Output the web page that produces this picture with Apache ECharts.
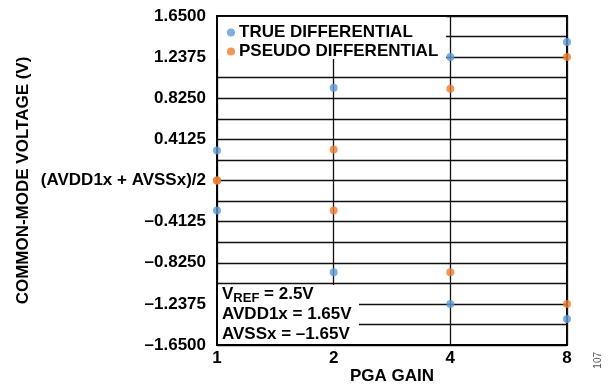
<!DOCTYPE html>
<html>
<head>
<meta charset="utf-8">
<script src="https://cdn.jsdelivr.net/npm/echarts@6/dist/echarts.min.js"></script>
<style>
  html, body { margin: 0; padding: 0; background: #fff; }
  #chart { width: 614px; height: 384px; }
</style>
</head>
<body>
<div id="chart"></div>
<script>
// datos
const gains = ['1', '2', '4', '8'];
const trueHigh = [0.30, 0.93, 1.24, 1.39];
const trueLow = [-0.30, -0.92, -1.24, -1.39];
const pseudoHigh = [0.0, 0.31, 0.92, 1.24];
const pseudoLow = [0.0, -0.30, -0.92, -1.24];
const yTicks = ['1.6500', '1.2375', '0.8250', '0.4125', '(AVDD1x + AVSSx)/2',
                '\u20130.4125', '\u20130.8250', '\u20131.2375', '\u20131.6500'];

const font = '"Liberation Sans", Arial, sans-serif';

function pairs(high, low) {
    const out = [];
    gains.forEach((g, i) => {
        out.push([g, high[i]]);
        out.push([g, low[i]]);
    });
    return out;
}

const chart = echarts.init(document.getElementById('chart'));

chart.setOption({
    animation: false,
    grid: {
        left: 217, right: 47, top: 16, bottom: 39,
        outerBoundsMode: 'none',
        containLabel: false,
        show: true, borderColor: '#000', borderWidth: 2
    },
    legend: {
        orient: 'vertical',
        left: 222, top: 19,
        z: 10,
        itemWidth: 8, itemHeight: 8, itemGap: 2,
        itemStyle: { borderWidth: 0 },
        icon: 'circle',
        textStyle: { fontFamily: font, fontWeight: 'bold', fontSize: 17, color: '#000', lineHeight: 15, padding: [0, 0, 0, -1] },
        data: ['TRUE DIFFERENTIAL', 'PSEUDO DIFFERENTIAL']
    },
    xAxis: {
        type: 'category',
        data: gains,
        boundaryGap: false,
        name: 'PGA GAIN',
        nameLocation: 'middle',
        nameGap: 23,
        nameMoveOverlap: false,
        nameTextStyle: { fontFamily: font, fontWeight: 'bold', fontSize: 17, color: '#000' },
        axisLine: { onZero: false, lineStyle: { color: '#000', width: 2 } },
        axisTick: { show: false },
        axisLabel: { fontFamily: font, fontWeight: 'bold', fontSize: 17, color: '#000', margin: 5 },
        splitLine: { show: true, lineStyle: { color: '#111', width: 1.3 } }
    },
    yAxis: {
        type: 'value',
        min: -1.65, max: 1.65, interval: 0.20625,
        name: 'COMMON-MODE VOLTAGE (V)',
        nameLocation: 'middle',
        nameGap: 185,
        nameMoveOverlap: false,
        nameTextStyle: { fontFamily: font, fontWeight: 'bold', fontSize: 17, color: '#000' },
        axisLine: { show: true, onZero: false, lineStyle: { color: '#000', width: 2 } },
        axisTick: { show: false },
        axisLabel: {
            fontFamily: font, fontWeight: 'bold', fontSize: 17, color: '#000', margin: 11,
            formatter: function (v) {
                const k = Math.round((1.65 - v) / 0.20625);
                return k % 2 === 0 ? yTicks[k / 2] : '';
            }
        },
        splitLine: { show: true, lineStyle: { color: '#111', width: 1.3 } }
    },
    graphic: [
        // fondo blanco de la leyenda
        { type: 'rect', z: 3, shape: { x: 218, y: 17, width: 228, height: 42 }, style: { fill: '#fff' } },
        // cuadro de condiciones
        { type: 'rect', z: 3, shape: { x: 218, y: 285, width: 141, height: 59 }, style: { fill: '#fff' } },
        {
            type: 'text', z: 4, left: 222, top: 283,
            style: {
                text: '{a|V}{s|REF}{a| = 2.5V}\n{a|AVDD1x = 1.65V}\n{a|AVSSx = \u20131.65V}',
                rich: {
                    a: { fontFamily: font, fontWeight: 'bold', fontSize: 17, color: '#000', lineHeight: 20 },
                    s: { fontFamily: font, fontWeight: 'bold', fontSize: 13, color: '#000', lineHeight: 20, padding: [9, 0, 0, 0] }
                }
            }
        },
        {
            type: 'text', left: 593, top: 352, rotation: Math.PI / 2,
            style: { text: '107', fontFamily: font, fontSize: 10, fill: '#555' }
        }
    ],
    series: [
        {
            name: 'TRUE DIFFERENTIAL',
            type: 'scatter',
            symbolSize: 8,
            itemStyle: { color: '#5B9BD5' },
            data: pairs(trueHigh, trueLow),
            z: 5
        },
        {
            name: 'PSEUDO DIFFERENTIAL',
            type: 'scatter',
            symbolSize: 8,
            itemStyle: { color: '#ED7D31' },
            data: pairs(pseudoHigh, pseudoLow),
            z: 5
        }
    ]
});
</script>
</body>
</html>
